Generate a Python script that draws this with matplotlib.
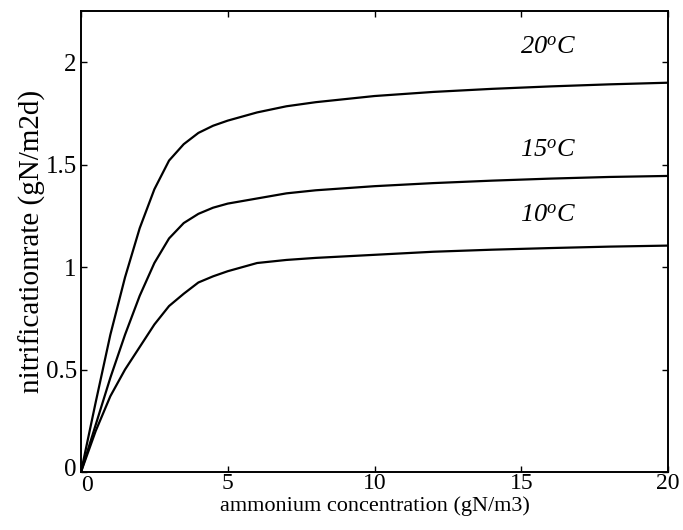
import matplotlib
matplotlib.use('Agg')
import matplotlib.pyplot as plt
import matplotlib.transforms as mtransforms
import numpy as np

plt.rcParams['font.family'] = ['Liberation Serif', 'DejaVu Serif']
plt.rcParams['mathtext.fontset'] = 'custom'
plt.rcParams['mathtext.rm'] = 'Liberation Serif'
plt.rcParams['mathtext.it'] = 'Liberation Serif:italic'

# ammonium concentration (gN/m3)
conc = [0, 0.5, 1, 1.5, 2, 2.5, 3, 3.5, 4, 4.5, 5, 6, 7, 8, 10, 12, 14, 16, 18, 20]

# nitrification rate (gN/m2d)
rate20 = [0, 0.34, 0.67, 0.95, 1.19, 1.38, 1.52, 1.60, 1.655, 1.69, 1.715, 1.755,
          1.785, 1.805, 1.835, 1.855, 1.87, 1.882, 1.892, 1.90]
rate15 = [0, 0.23, 0.46, 0.67, 0.86, 1.02, 1.14, 1.215, 1.26, 1.29, 1.31, 1.335,
          1.36, 1.375, 1.395, 1.41, 1.422, 1.432, 1.44, 1.445]
rate10 = [0, 0.20, 0.37, 0.50, 0.61, 0.72, 0.81, 0.87, 0.925, 0.955, 0.98, 1.02,
          1.035, 1.045, 1.06, 1.075, 1.085, 1.093, 1.10, 1.105]

labels = [r'20$^{\mathit{o}}$C', r'15$^{\mathit{o}}$C', r'10$^{\mathit{o}}$C']
label_pos = [(15.9, 2.07), (15.9, 1.57), (15.9, 1.25)]

xticks = [0, 5, 10, 15, 20]
yticks = [0, 0.5, 1, 1.5, 2]

fig = plt.figure(figsize=(6.83, 5.3), dpi=100)
ax = fig.add_axes([81/683, 58/530, 587/683, 461/530])

for r in [rate20, rate15, rate10]:
    ax.plot(conc, r, color='black', lw=1.6)

for lab, (lx, ly) in zip(labels, label_pos):
    ax.text(lx, ly, lab, fontsize=19, style='italic', ha='center', va='center')

ax.set_xlim(0, 20)
ax.set_ylim(0, 2.25)
ax.set_xticks(xticks)
ax.set_yticks(yticks)
ax.set_xticklabels([str(t) for t in xticks])
ax.set_yticklabels(['0', '0.5', '1', '1.5', '2'])
ax.tick_params(direction='in', length=4, width=1, labelsize=18,
               top=True, right=True, pad=3)
ax.tick_params(axis='x', labelsize=17, pad=1)
for s in ax.spines.values():
    s.set_linewidth(1.4)

# nudge the two corner zeros apart
xl0 = ax.get_xticklabels()[0]
xl0.set_transform(xl0.get_transform() + mtransforms.ScaledTranslation(4/72, -1/72, fig.dpi_scale_trans))
yl0 = ax.get_yticklabels()[0]
yl0.set_transform(yl0.get_transform() + mtransforms.ScaledTranslation(0, 3/72, fig.dpi_scale_trans))

ax.set_xlabel('ammonium concentration (gN/m3)', fontsize=16, labelpad=0)
ax.set_ylabel('nitrificationrate (gN/m2d)', fontsize=21, labelpad=0)

plt.savefig('out.png', dpi=100)
